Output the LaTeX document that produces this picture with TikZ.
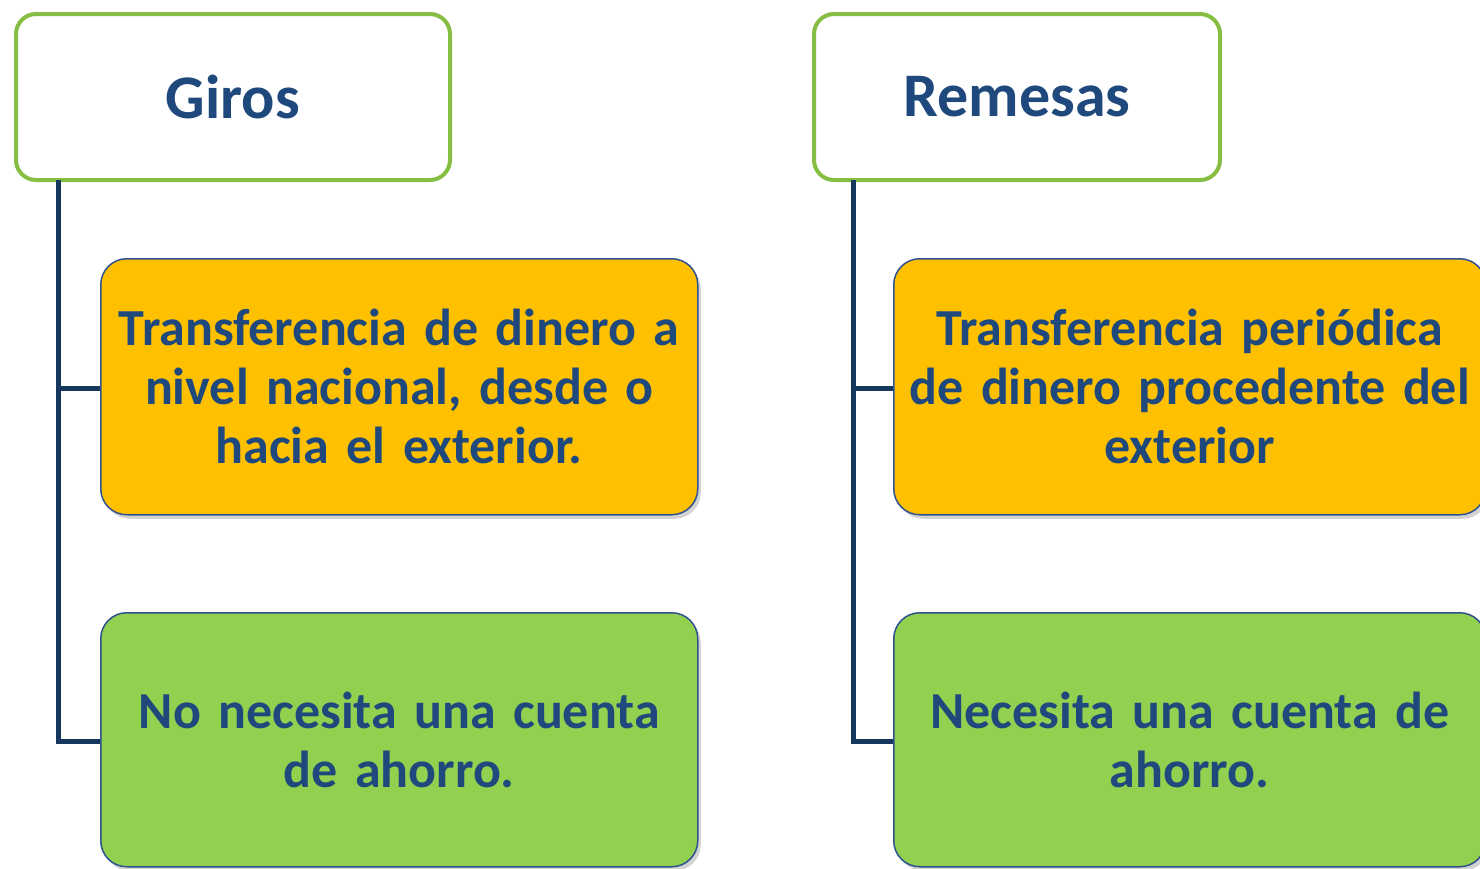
\documentclass[tikz,border=0pt]{standalone}
\usepackage{fontspec}
\setmainfont{Carlito}[WordSpace=0.85]
\usetikzlibrary{shadows}

\definecolor{titlegreen}{RGB}{134,190,68}
\definecolor{boxyellow}{RGB}{255,192,0}
\definecolor{boxgreen}{RGB}{146,208,80}
\definecolor{textblue}{RGB}{31,73,125}
\definecolor{linenavy}{RGB}{23,55,94}
\definecolor{edgeblue}{RGB}{47,82,143}

\tikzset{
  titlebox/.style={draw=titlegreen, line width=4pt, fill=white, rounded corners=20pt,
    anchor=north west, inner sep=0pt, text=textblue,
    font=\bfseries\fontsize{62}{70}\selectfont},
  defbox/.style={draw=edgeblue, line width=1.5pt, rounded corners=26pt, anchor=north west,
    inner sep=0pt, text=textblue, align=center,
    font=\bfseries\fontsize{52}{59}\selectfont},
  shade box/.style={drop shadow={shadow xshift=3pt, shadow yshift=-4pt, opacity=0.35}},
  conn/.style={draw=linenavy, line width=5pt}
}

\begin{document}
\begin{tikzpicture}[x=1pt,y=-1pt]

\useasboundingbox (0,0) rectangle (1480,868);

% column titles
\node[titlebox, minimum width=434pt, minimum height=166pt] (giros) at (14,12) {Giros};
\node[titlebox, minimum width=406pt, minimum height=166pt] (remesas) at (812,12) {Remesas};

% tree lines, drawn first
\coordinate (gtop) at (58,180);
\coordinate (rtop) at (853,180);
\coordinate (gmid) at (100,388);
\coordinate (glow) at (100,741);
\coordinate (rmid) at (893,388);
\coordinate (rlow) at (893,741);
\draw[conn] (gtop) |- (gmid);
\draw[conn] (gtop) |- (glow);
\draw[conn] (rtop) |- (rmid);
\draw[conn] (rtop) |- (rlow);

% Giros boxes
\node[defbox, shade box, fill=boxyellow, minimum width=597pt, minimum height=256pt, text width=580pt]
  (gdef) at (100,258) {Transferencia de dinero a\\ nivel nacional, desde o\\ hacia el exterior.};
\node[defbox, shade box, fill=boxgreen, minimum width=597pt, minimum height=254pt, text width=580pt]
  (gcta) at (100,612) {No necesita una cuenta\\ de ahorro.};

% Remesas boxes
\node[defbox, shade box, fill=boxyellow, minimum width=592pt, minimum height=256pt, text width=580pt]
  (rdef) at (893,258) {Transferencia peri\'odica\\ de dinero procedente del\\ exterior};
\node[defbox, shade box, fill=boxgreen, minimum width=592pt, minimum height=254pt, text width=580pt]
  (rcta) at (893,612) {Necesita una cuenta de\\ ahorro.};

\end{tikzpicture}
\end{document}
